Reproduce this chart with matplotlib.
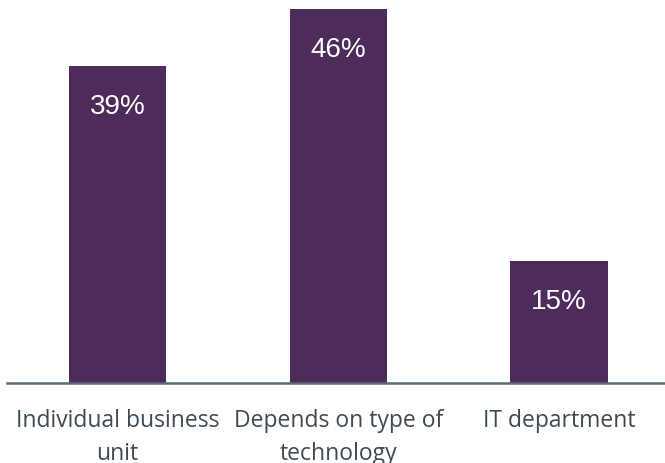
import matplotlib.pyplot as plt

categories = ['Individual business\nunit', 'Depends on type of\ntechnology', 'IT department']
values = [39, 46, 15]
labels = ['39%', '46%', '15%']

bar_color = '#4d2c5c'

fig = plt.figure(figsize=(6.65, 4.63), dpi=100)
ax = fig.add_axes([7 / 665, 80 / 463, 658 / 665, 383 / 463])

x = range(len(values))
bars = ax.bar(x, values, width=0.44, color=bar_color, zorder=2)

for b, lab in zip(bars, labels):
    ax.text(b.get_x() + b.get_width() / 2, b.get_height() - 5.0, lab,
            ha='center', va='center', color='white', fontsize=20,
            family='Liberation Sans')

ax.set_xlim(-0.5, 2.48)
ax.set_ylim(0, 47.1)
ax.set_xticks(list(x))
ax.set_xticklabels(categories, family='Open Sans', fontsize=16.5,
                   color='#3e4a54', linespacing=1.5)
ax.tick_params(axis='x', length=0, pad=19)
ax.set_yticks([])

for s in ['top', 'right', 'left']:
    ax.spines[s].set_visible(False)
ax.spines['bottom'].set_color('#5f6b73')
ax.spines['bottom'].set_linewidth(1.8)

fig.savefig('out.png', dpi=100)
